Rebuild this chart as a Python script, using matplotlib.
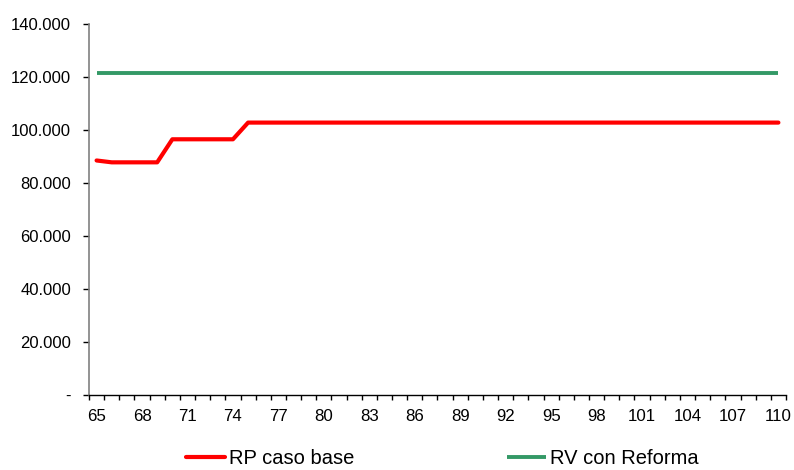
import matplotlib
matplotlib.use("Agg")
import matplotlib.pyplot as plt
from matplotlib.ticker import FuncFormatter, MultipleLocator, FixedLocator

plt.rcParams['font.family'] = ['Liberation Sans', 'DejaVu Sans']

# Ages (category axis)
ages = list(range(65, 111))

# Pension amounts per age
rp_base = [88500] + [87800] * 4 + [96500] * 5 + [102800] * (len(ages) - 10)
rv_reforma = [121600] * len(ages)

series_labels = ["RP caso base", "RV con Reforma"]
series_colors = ["#FF0000", "#339966"]

fig = plt.figure(figsize=(7.94, 4.70), dpi=100)
ax = fig.add_axes([0.1121, 0.1596, 0.8778, 0.7893])

ax.plot(ages, rp_base, color=series_colors[0], lw=3.0, label=series_labels[0],
        solid_joinstyle='round', solid_capstyle='round')
ax.plot(ages, rv_reforma, color=series_colors[1], lw=2.8, label=series_labels[1],
        solid_capstyle='butt')

ax.set_xlim(64.5, 110.5)
ax.set_ylim(0, 140000)

# y axis: thousands with dot separator, zero shown as a dash
def fmt_y(v, pos):
    if abs(v) < 1e-9:
        return "-"
    return f"{int(round(v)):,}".replace(",", ".")

ax.yaxis.set_major_locator(MultipleLocator(20000))
ax.yaxis.set_major_formatter(FuncFormatter(fmt_y))

# x axis: tick marks between categories, labels every third age
ax.xaxis.set_major_locator(FixedLocator(ages[::3]))
ax.xaxis.set_minor_locator(FixedLocator([a - 0.5 for a in ages] + [ages[-1] + 0.5]))
ax.tick_params(axis='x', which='major', length=0, pad=10, labelsize=12.2)
ax.tick_params(axis='x', which='minor', length=3.6, direction='out', width=1, color='black')
ax.tick_params(axis='y', which='major', length=4.5, direction='out', width=1,
               color='black', labelsize=12, pad=8.5)

for s in ('top', 'right'):
    ax.spines[s].set_visible(False)
ax.spines['left'].set_color('#808080')
ax.spines['left'].set_linewidth(1.2)
ax.spines['bottom'].set_color('black')
ax.spines['bottom'].set_linewidth(1.0)

fig.legend(loc='center', bbox_to_anchor=(0.557, 0.024), ncol=2, frameon=False,
           fontsize=14.5, handlelength=1.94, handletextpad=0.2, columnspacing=7.6,
           borderpad=0)

fig.savefig("out.png", dpi=100)
